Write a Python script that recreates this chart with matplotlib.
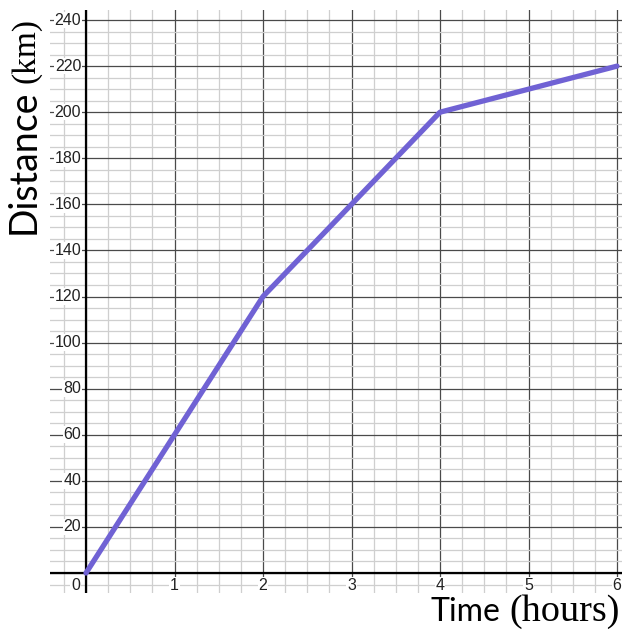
import matplotlib
matplotlib.use("Agg")
import matplotlib.pyplot as plt
from matplotlib.ticker import MultipleLocator

# data
hours = [0, 2, 4, 6]
distance_km = [0, 120, 200, 220]
x_ticks = [1, 2, 3, 4, 5, 6]
y_ticks = [20, 40, 60, 80, 100, 120, 140, 160, 180, 200, 220, 240]

W, H = 640, 639
fig = plt.figure(figsize=(W / 100, H / 100), dpi=100)

# grid area in pixels: left 50, right 622, top 10, bottom 593
ax = fig.add_axes([50 / W, 1 - 593 / H, (622 - 50) / W, (593 - 10) / H])
ax.set_xlim((50 - 86) / 88.5, (622 - 86) / 88.5)
ax.set_ylim((573 - 593) / 2.304, (573 - 10) / 2.304)

ax.xaxis.set_major_locator(MultipleLocator(1))
ax.xaxis.set_minor_locator(MultipleLocator(0.25))
ax.yaxis.set_major_locator(MultipleLocator(20))
ax.yaxis.set_minor_locator(MultipleLocator(5))
ax.grid(which="minor", color="#cfcfcf", lw=0.9)
ax.grid(which="major", color="#4a4a4a", lw=0.9)
ax.set_axisbelow(True)
ax.tick_params(which="both", length=0, labelbottom=False, labelleft=False)
for s in ax.spines.values():
    s.set_visible(False)

ax.axhline(0, color="black", lw=1.6, zorder=2)
ax.axvline(0, color="black", lw=1.6, zorder=2)

ax.plot(hours, distance_km, color="#7062d4", lw=3.8, solid_capstyle="round",
        solid_joinstyle="round", zorder=3)

box = dict(facecolor="white", edgecolor="none", pad=0.6)
tick_font = dict(family="Liberation Sans", fontsize=11.5, color="#222222")
for v in y_ticks:
    ax.text(-0.055, v, str(v), ha="right", va="center", bbox=box, zorder=4, **tick_font)
for v in x_ticks:
    ax.text(v, -5.3, str(v), ha="center", va="center", bbox=box, zorder=4, **tick_font)
ax.text(-0.12, -5.3, "0", ha="center", va="center", bbox=box, zorder=4, **tick_font)

# axis titles: sans word + serif units
fig.text(500 / W, 1 - 621 / H, "Time", ha="right", va="baseline",
         family="Lato", fontsize=23, color="black")
fig.text(509 / W, 1 - 621 / H, "(hours)", ha="left", va="baseline",
         family="Liberation Serif", fontsize=27.5, color="black")
fig.text(35 / W, 1 - 234 / H, "Distance", ha="left", va="baseline", rotation=90,
         rotation_mode="anchor", family="Lato", fontsize=27, color="black")
fig.text(34 / W, 1 - 83 / H, "(km)", ha="left", va="baseline", rotation=90,
         rotation_mode="anchor", family="Liberation Serif", fontsize=24, color="black")

fig.savefig("out.png", dpi=100)
